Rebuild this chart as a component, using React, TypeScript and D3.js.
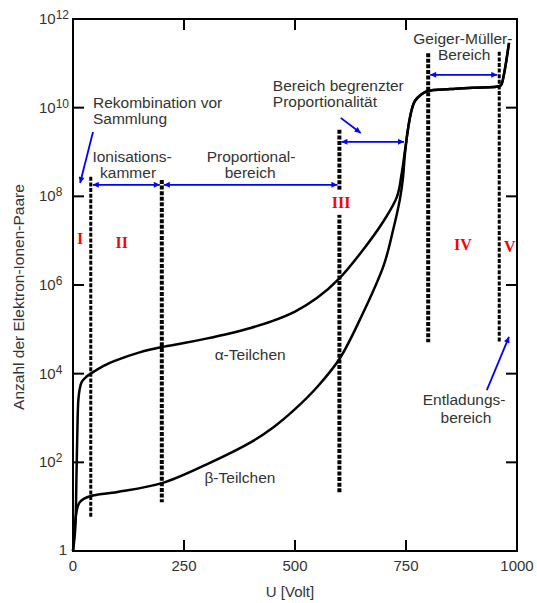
import React, { useEffect, useRef } from 'react';
import * as d3 from 'd3';

// voltage [V] and log10(number of ion pairs)
const alphaVolts = [0, 5, 8, 10, 12, 15, 20, 30, 40, 70, 100, 150, 200, 250, 300, 350, 400, 450, 500, 550, 600, 650, 700, 730, 740, 748, 755, 762, 770, 785, 800, 850, 900, 962, 966, 970, 975, 982];
const alphaExp = [0, 0.5, 1.8, 2.8, 3.4, 3.65, 3.82, 3.93, 4.0, 4.18, 4.31, 4.48, 4.6, 4.69, 4.79, 4.9, 5.03, 5.19, 5.4, 5.71, 6.15, 6.75, 7.45, 8.0, 8.5, 9.05, 9.55, 9.92, 10.15, 10.3, 10.38, 10.42, 10.45, 10.49, 10.55, 10.72, 11.0, 11.46];
const betaVolts = [0, 3, 6, 10, 15, 25, 40, 100, 200, 300, 400, 450, 500, 550, 600, 650, 700, 720, 736, 743, 748, 755, 762, 770, 785, 800, 850, 900, 962, 966, 970, 975, 982];
const betaExp = [0, 0.4, 0.75, 0.98, 1.1, 1.18, 1.24, 1.33, 1.53, 1.95, 2.45, 2.78, 3.2, 3.7, 4.33, 5.3, 6.45, 7.2, 7.92, 8.4, 9.0, 9.55, 9.92, 10.15, 10.3, 10.38, 10.42, 10.45, 10.49, 10.55, 10.72, 11.0, 11.46];

const xTicks = [0, 250, 500, 750, 1000];
const yTickExp = [0, 2, 4, 6, 8, 10, 12];

// region boundaries: voltage, top / bottom exponent, heavy or light
const boundVolts = [40, 200, 600, 800, 960];
const boundTop = [8.44, 8.37, 9.5, 11.23, 11.26];
const boundBottom = [0.77, 1.1, 1.31, 4.71, 4.71];
const boundHeavy = [false, true, true, true, false];

// double arrows between boundaries
const spanFrom = [40, 200, 600, 800];
const spanTo = [200, 600, 750, 960];
const spanExp = [8.26, 8.26, 9.23, 10.74];

// pointer arrows [x1, e1, x2, e2]
const pointers = [
  [45, 9.45, 16, 8.3],
  [603, 9.77, 648, 9.43],
  [932, 3.63, 982, 4.83],
];

const labels = [
  { t: 'Rekombination vor', v: 45, e: 9.99, a: 'start' },
  { t: 'Sammlung', v: 45, e: 9.63, a: 'start' },
  { t: 'Ionisations-', v: 133, e: 8.77, a: 'middle' },
  { t: 'kammer', v: 124, e: 8.41, a: 'middle' },
  { t: 'Proportional-', v: 401, e: 8.77, a: 'middle' },
  { t: 'bereich', v: 399, e: 8.41, a: 'middle' },
  { t: 'Bereich begrenzter', v: 450, e: 10.38, a: 'start' },
  { t: 'Proportionalität', v: 450, e: 10.02, a: 'start' },
  { t: 'Geiger-Müller-', v: 878, e: 11.44, a: 'middle' },
  { t: 'Bereich', v: 881, e: 11.08, a: 'middle' },
  { t: 'α-Teilchen', v: 399, e: 4.31, a: 'middle' },
  { t: 'β-Teilchen', v: 376, e: 1.53, a: 'middle' },
  { t: 'Entladungs-', v: 881, e: 3.29, a: 'middle' },
  { t: 'bereich', v: 885, e: 2.89, a: 'middle' },
];

const romans = ['I', 'II', 'III', 'IV', 'V'];
const romanVolts = [16, 110, 604, 878, 984];
const romanExp = [6.92, 6.83, 7.74, 6.79, 6.74];

const W = 537, H = 603;
const margin = { top: 19, right: 20, bottom: 52, left: 73 };
const font = '"Liberation Sans", Arial, sans-serif';
const grey = '#333';

function App() {
  const svgRef = useRef(null);

  useEffect(() => {
    const svg = d3.select(svgRef.current);
    svg.selectAll('*').remove();

    const x = d3.scaleLinear().domain([0, 1000]).range([margin.left, W - margin.right]);
    const y = d3.scaleLog().domain([1, 1e12]).range([H - margin.bottom, margin.top]);
    const ye = (e: number) => y(Math.pow(10, e));

    const defs = svg.append('defs');
    defs.append('marker')
      .attr('id', 'head')
      .attr('viewBox', '0 0 10 10')
      .attr('refX', 10).attr('refY', 5)
      .attr('markerWidth', 7).attr('markerHeight', 6)
      .attr('markerUnits', 'userSpaceOnUse')
      .attr('orient', 'auto-start-reverse')
      .append('path').attr('d', 'M0,0L10,5L0,10z').attr('fill', '#0000ff');

    // frame
    svg.append('rect')
      .attr('x', x(0)).attr('y', ye(12))
      .attr('width', x(1000) - x(0)).attr('height', ye(0) - ye(12))
      .attr('fill', 'none').attr('stroke', '#000').attr('stroke-width', 2);

    // ticks on all four sides, pointing inward
    const inner = xTicks.slice(1, -1);
    const innerY = yTickExp.slice(1, -1);
    const tk = svg.append('g').attr('stroke', '#000').attr('stroke-width', 2);
    inner.forEach(v => {
      tk.append('line').attr('x1', x(v)).attr('x2', x(v)).attr('y1', ye(0)).attr('y2', ye(0) - 11);
      tk.append('line').attr('x1', x(v)).attr('x2', x(v)).attr('y1', ye(12)).attr('y2', ye(12) + 11);
    });
    innerY.forEach(e => {
      tk.append('line').attr('x1', x(0)).attr('x2', x(0) + 11).attr('y1', ye(e)).attr('y2', ye(e));
      tk.append('line').attr('x1', x(1000)).attr('x2', x(1000) - 11).attr('y1', ye(e)).attr('y2', ye(e));
    });

    // x tick labels
    svg.append('g').selectAll('text').data(xTicks).join('text')
      .attr('x', d => x(d)).attr('y', ye(0) + 20)
      .attr('text-anchor', 'middle')
      .style('font-family', font).style('font-size', '15px').style('fill', grey)
      .text(d => d);

    // y tick labels
    yTickExp.forEach(e => {
      if (e === 0) {
        svg.append('text').attr('x', x(0) - 6).attr('y', ye(e) + 4)
          .attr('text-anchor', 'end')
          .style('font-family', font).style('font-size', '15px').style('fill', grey)
          .text('1');
        return;
      }
      const t = svg.append('text').attr('x', 39).attr('y', ye(e) + 5)
        .style('font-family', font).style('font-size', '15px').style('fill', grey);
      t.append('tspan').text('10');
      t.append('tspan').attr('dy', -5).style('font-size', '12px').text(String(e));
    });

    // axis titles
    svg.append('text')
      .attr('x', (x(0) + x(1000)) / 2 - 5).attr('y', 597)
      .attr('text-anchor', 'middle')
      .style('font-family', font).style('font-size', '15px').style('fill', grey)
      .text('U [Volt]');
    svg.append('text')
      .attr('transform', `translate(24, 297) rotate(-90)`)
      .attr('text-anchor', 'middle')
      .style('font-family', font).style('font-size', '15.5px').style('fill', grey)
      .text('Anzahl der Elektron-Ionen-Paare');

    // region boundaries
    boundVolts.forEach((v, i) => {
      svg.append('line')
        .attr('x1', x(v)).attr('x2', x(v))
        .attr('y1', ye(boundTop[i])).attr('y2', ye(boundBottom[i]))
        .attr('stroke', '#000')
        .attr('stroke-width', boundHeavy[i] ? 4 : 3)
        .attr('stroke-dasharray', '4,1.6');
    });

    // curves
    const line = d3.line<[number, number]>()
      .x(d => x(d[0])).y(d => ye(d[1]))
      .curve(d3.curveCatmullRom.alpha(0.5));
    const curves = [
      alphaVolts.map((v, i) => [v, alphaExp[i]] as [number, number]),
      betaVolts.map((v, i) => [v, betaExp[i]] as [number, number]),
    ];
    svg.append('g').selectAll('path').data(curves).join('path')
      .attr('d', d => line(d))
      .attr('fill', 'none').attr('stroke', '#000').attr('stroke-width', 2.5)
      .attr('stroke-linejoin', 'round');

    // double arrows
    spanFrom.forEach((v, i) => {
      svg.append('line')
        .attr('x1', x(v) + 2).attr('x2', x(spanTo[i]) - 2)
        .attr('y1', ye(spanExp[i])).attr('y2', ye(spanExp[i]))
        .attr('stroke', '#0000ff').attr('stroke-width', 1.8)
        .attr('marker-start', 'url(#head)').attr('marker-end', 'url(#head)');
    });

    // pointer arrows
    pointers.forEach(p => {
      svg.append('line')
        .attr('x1', x(p[0])).attr('y1', ye(p[1]))
        .attr('x2', x(p[2])).attr('y2', ye(p[3]))
        .attr('stroke', '#0000ff').attr('stroke-width', 1.8)
        .attr('marker-end', 'url(#head)');
    });

    // annotation texts
    svg.append('g').selectAll('text').data(labels).join('text')
      .attr('x', d => x(d.v)).attr('y', d => ye(d.e))
      .attr('text-anchor', d => d.a)
      .style('font-family', font).style('font-size', '15.5px').style('fill', grey)
      .text(d => d.t);

    // region numerals, on a white patch so they break the dashed lines
    const rn = svg.append('g');
    romans.forEach((r, i) => {
      const t = rn.append('text')
        .attr('x', x(romanVolts[i])).attr('y', ye(romanExp[i]))
        .attr('text-anchor', 'middle')
        .style('font-family', '"Liberation Serif", "Times New Roman", serif')
        .style('font-weight', 'bold').style('font-size', '16px').style('fill', '#ff0000')
        .text(r);
      const b = (t.node() as SVGTextElement).getBBox();
      if (i === 2) {
        rn.insert('rect', 'text')
          .attr('x', b.x - 1).attr('y', b.y - 4)
          .attr('width', b.width + 2).attr('height', b.height + 8)
          .attr('fill', '#fff');
      }
    });
  }, []);

  return (
    <svg ref={svgRef} width={W} height={H}
      style={{ position: 'absolute', left: 0, top: 0, background: '#fff' }} />
  );
}

export default App;
